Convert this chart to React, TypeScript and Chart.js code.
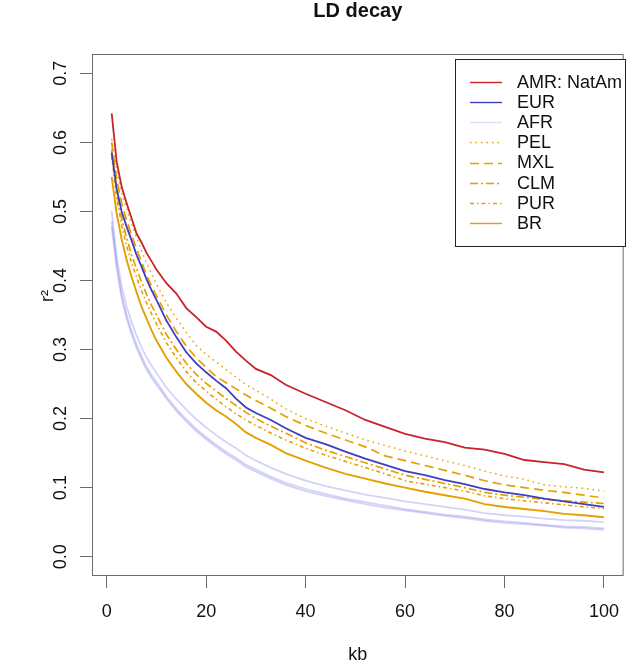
import { useEffect, useRef } from 'react';
import { Chart, registerables } from 'chart.js';

Chart.register(...registerables);

// ---------------- data ----------------
const KB = [1, 2, 3, 4, 5, 6, 7, 8, 9, 10, 12, 14, 16, 18, 20, 22, 24, 26, 28, 30, 33, 36, 40, 44, 48, 52, 56, 60, 64, 68, 72, 76, 80, 84, 88, 92, 96, 100];

const AMR = [0.642, 0.572, 0.536, 0.512, 0.49, 0.468, 0.455, 0.44, 0.428, 0.416, 0.396, 0.381, 0.36, 0.347, 0.333, 0.326, 0.313, 0.297, 0.284, 0.272, 0.263, 0.249, 0.236, 0.224, 0.212, 0.198, 0.188, 0.178, 0.171, 0.166, 0.158, 0.155, 0.149, 0.14, 0.137, 0.134, 0.126, 0.122];
const EUR = [0.585, 0.533, 0.5, 0.478, 0.458, 0.437, 0.42, 0.402, 0.386, 0.372, 0.342, 0.318, 0.296, 0.28, 0.267, 0.255, 0.244, 0.229, 0.216, 0.208, 0.198, 0.186, 0.172, 0.163, 0.152, 0.142, 0.133, 0.124, 0.118, 0.111, 0.105, 0.098, 0.093, 0.089, 0.084, 0.08, 0.076, 0.072];
const AFR_A = [0.478, 0.418, 0.374, 0.345, 0.322, 0.302, 0.286, 0.271, 0.259, 0.249, 0.229, 0.211, 0.196, 0.182, 0.17, 0.159, 0.149, 0.14, 0.13, 0.123, 0.113, 0.104, 0.095, 0.088, 0.082, 0.076, 0.071, 0.067, 0.063, 0.059, 0.056, 0.052, 0.049, 0.047, 0.045, 0.042, 0.041, 0.039];
const AFR_B = [0.486, 0.424, 0.38, 0.35, 0.327, 0.307, 0.29, 0.275, 0.263, 0.253, 0.232, 0.214, 0.199, 0.185, 0.173, 0.162, 0.152, 0.143, 0.133, 0.126, 0.116, 0.107, 0.098, 0.091, 0.084, 0.079, 0.074, 0.069, 0.065, 0.061, 0.058, 0.054, 0.051, 0.049, 0.046, 0.044, 0.043, 0.041];
const AFR_C = [0.5, 0.435, 0.392, 0.362, 0.34, 0.32, 0.303, 0.289, 0.277, 0.266, 0.245, 0.228, 0.213, 0.199, 0.187, 0.176, 0.166, 0.157, 0.147, 0.139, 0.129, 0.12, 0.11, 0.102, 0.096, 0.09, 0.085, 0.08, 0.076, 0.072, 0.068, 0.063, 0.06, 0.058, 0.055, 0.053, 0.052, 0.05];
const PEL = [0.605, 0.56, 0.527, 0.503, 0.482, 0.462, 0.443, 0.425, 0.41, 0.395, 0.368, 0.345, 0.325, 0.306, 0.293, 0.282, 0.271, 0.26, 0.249, 0.241, 0.228, 0.214, 0.2, 0.189, 0.179, 0.169, 0.161, 0.153, 0.146, 0.139, 0.132, 0.124, 0.117, 0.112, 0.104, 0.101, 0.099, 0.095];
const MXL = [0.6, 0.547, 0.512, 0.487, 0.466, 0.446, 0.427, 0.408, 0.392, 0.378, 0.35, 0.326, 0.305, 0.288, 0.274, 0.261, 0.252, 0.243, 0.234, 0.226, 0.215, 0.203, 0.19, 0.179, 0.169, 0.159, 0.146, 0.139, 0.132, 0.125, 0.118, 0.11, 0.104, 0.1, 0.096, 0.093, 0.089, 0.085];
const CLM = [0.59, 0.527, 0.49, 0.462, 0.437, 0.417, 0.398, 0.38, 0.364, 0.35, 0.322, 0.3, 0.28, 0.264, 0.251, 0.24, 0.229, 0.219, 0.209, 0.2, 0.189, 0.179, 0.165, 0.154, 0.145, 0.136, 0.127, 0.118, 0.112, 0.106, 0.1, 0.093, 0.089, 0.086, 0.083, 0.081, 0.079, 0.077];
const PUR = [0.58, 0.52, 0.48, 0.45, 0.425, 0.405, 0.385, 0.368, 0.352, 0.337, 0.31, 0.288, 0.268, 0.252, 0.24, 0.228, 0.217, 0.207, 0.198, 0.19, 0.179, 0.169, 0.157, 0.147, 0.138, 0.129, 0.12, 0.11, 0.105, 0.1, 0.095, 0.088, 0.084, 0.081, 0.078, 0.075, 0.072, 0.07];
const BR = [0.55, 0.497, 0.46, 0.43, 0.405, 0.383, 0.362, 0.345, 0.328, 0.313, 0.288, 0.268, 0.25, 0.236, 0.223, 0.212, 0.203, 0.192, 0.18, 0.172, 0.162, 0.15, 0.139, 0.129, 0.12, 0.113, 0.106, 0.1, 0.094, 0.089, 0.084, 0.076, 0.072, 0.069, 0.066, 0.062, 0.06, 0.057];

const X_TICKS = [0, 20, 40, 60, 80, 100];
const Y_TICKS = [0, 0.1, 0.2, 0.3, 0.4, 0.5, 0.6, 0.7];
const TITLE = 'LD decay';
const X_LABEL = 'kb';
const Y_LABEL = 'r²';
const LEGEND_LABELS = ['AMR: NatAm', 'EUR', 'AFR', 'PEL', 'MXL', 'CLM', 'PUR', 'BR'];

// ---------------- styles ----------------
const FONT = '"Liberation Sans", Arial, Helvetica, sans-serif';
const RED = '#C8232C';
const BLUE = '#3E3EC2';
const ORANGE = '#E69F00';
const AFR_COLOR = 'rgba(110,110,230,0.3)';

type Style = { color: string; dash: number[]; width: number };
const STYLE: Record<string, Style> = {
  'AMR: NatAm': { color: RED, dash: [], width: 1.8 },
  EUR: { color: BLUE, dash: [], width: 1.8 },
  AFR: { color: AFR_COLOR, dash: [], width: 1.8 },
  PEL: { color: ORANGE, dash: [1.5, 4], width: 1.5 },
  MXL: { color: ORANGE, dash: [9, 5], width: 1.7 },
  CLM: { color: ORANGE, dash: [8, 3, 2, 3], width: 1.7 },
  PUR: { color: ORANGE, dash: [4, 3, 1.5, 3], width: 1.6 },
  BR: { color: ORANGE, dash: [], width: 1.9 },
};

const toPts = (arr: number[]) => KB.map((x, i) => ({ x, y: arr[i] }));

const mk = (label: string, arr: number[], key: string) => ({
  label,
  data: toPts(arr),
  borderColor: STYLE[key].color,
  borderDash: STYLE[key].dash,
  borderWidth: STYLE[key].width,
  pointRadius: 0,
  fill: false,
  tension: 0,
});

const decor = {
  id: 'decor',
  afterDraw(chart: any) {
    const { ctx, chartArea: a } = chart;
    ctx.save();
    // box
    ctx.strokeStyle = '#6a6a6a';
    ctx.lineWidth = 1;
    ctx.setLineDash([]);
    ctx.strokeRect(a.left + 0.5, a.top + 0.5, a.right - a.left - 1, a.bottom - a.top - 1);

    ctx.fillStyle = '#111';
    // title
    ctx.font = `bold 20px ${FONT}`;
    ctx.textAlign = 'center';
    ctx.textBaseline = 'alphabetic';
    const cx = (a.left + a.right) / 2;
    ctx.fillText(TITLE, cx, 17);
    // x label
    ctx.font = `18px ${FONT}`;
    ctx.fillText(X_LABEL, cx, 660);
    // y label
    ctx.save();
    ctx.translate(53, 296);
    ctx.rotate(-Math.PI / 2);
    ctx.fillText(Y_LABEL, 0, 0);
    ctx.restore();

    // legend
    const lx = 455.5, ly = 59.5, lw = 170, lh = 187;
    ctx.fillStyle = '#fff';
    ctx.fillRect(lx, ly, lw, lh);
    ctx.strokeStyle = '#222';
    ctx.strokeRect(lx, ly, lw, lh);
    ctx.font = `18px ${FONT}`;
    ctx.textAlign = 'left';
    ctx.textBaseline = 'middle';
    LEGEND_LABELS.forEach((lab, i) => {
      const y = 81.7 + i * 20.2;
      const st = STYLE[lab];
      ctx.beginPath();
      ctx.strokeStyle = lab === 'AFR' ? 'rgba(110,110,230,0.22)' : st.color;
      ctx.lineWidth = 1.4;
      ctx.setLineDash(st.dash);
      ctx.moveTo(470, Math.round(y) + 0.5);
      ctx.lineTo(502, Math.round(y) + 0.5);
      ctx.stroke();
      ctx.setLineDash([]);
      ctx.fillStyle = '#111';
      ctx.fillText(lab, 517, y + 1);
    });
    ctx.restore();
  },
};

export default function App() {
  const ref = useRef<HTMLCanvasElement | null>(null);
  useEffect(() => {
    if (!ref.current) return;
    const chart = new Chart(ref.current, {
      type: 'line',
      data: {
        datasets: [
          mk('AMR: NatAm', AMR, 'AMR: NatAm'),
          mk('EUR', EUR, 'EUR'),
          mk('PEL', PEL, 'PEL'),
          mk('MXL', MXL, 'MXL'),
          mk('CLM', CLM, 'CLM'),
          mk('PUR', PUR, 'PUR'),
          mk('BR', BR, 'BR'),
          mk('AFR', AFR_A, 'AFR'),
          mk('AFR', AFR_B, 'AFR'),
          mk('AFR', AFR_C, 'AFR'),
        ] as any,
      },
      options: {
        animation: false,
        responsive: false,
        maintainAspectRatio: false,
        layout: { padding: { left: 0, right: 1, top: 54, bottom: 0 } },
        plugins: {
          legend: { display: false },
          tooltip: { enabled: false },
          title: { display: false },
        },
        scales: {
          x: {
            type: 'linear',
            min: -2.96,
            max: 103.96,
            afterBuildTicks: (s: any) => {
              s.ticks = X_TICKS.map((v) => ({ value: v }));
            },
            afterFit: (s: any) => {
              s.height = 88;
            },
            grid: {
              display: true,
              drawOnChartArea: false,
              drawTicks: true,
              tickLength: 12,
              tickColor: '#6a6a6a',
              tickWidth: 1,
            },
            border: { display: false },
            ticks: {
              autoSkip: false,
              maxRotation: 0,
              padding: 13,
              color: '#111',
              font: { family: FONT, size: 18 },
              callback: (v: any) => String(v),
            },
          },
          y: {
            type: 'linear',
            min: -0.028,
            max: 0.728,
            afterBuildTicks: (s: any) => {
              s.ticks = Y_TICKS.map((v) => ({ value: v }));
            },
            afterFit: (s: any) => {
              s.width = 92;
            },
            grid: {
              display: true,
              drawOnChartArea: false,
              drawTicks: true,
              tickLength: 12,
              tickColor: '#6a6a6a',
              tickWidth: 1,
            },
            border: { display: false },
            ticks: {
              autoSkip: false,
              minRotation: 90,
              maxRotation: 90,
              crossAlign: 'center',
              padding: 6,
              color: '#111',
              font: { family: FONT, size: 18 },
              callback: (v: any) => Number(v).toFixed(1),
            },
          },
        },
      } as any,
      plugins: [decor],
    });
    return () => chart.destroy();
  }, []);

  return (
    <div style={{ position: 'absolute', left: 0, top: 0, width: 632, height: 664, background: '#fff' }}>
      <canvas ref={ref} width={632} height={664} style={{ display: 'block', width: 632, height: 664 }} />
    </div>
  );
}
